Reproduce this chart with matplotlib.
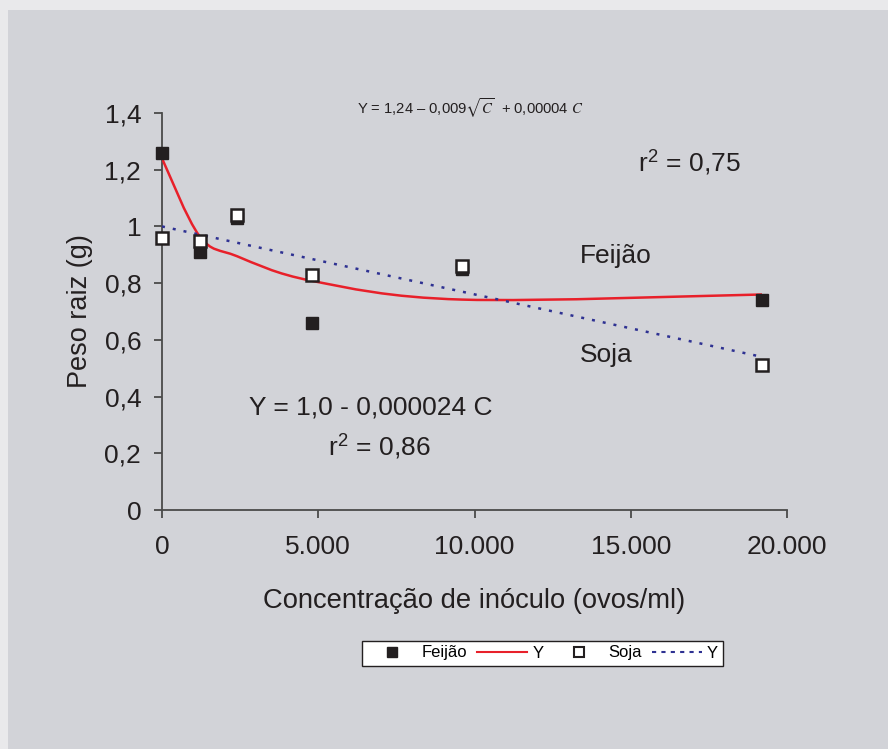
import numpy as np
import matplotlib
matplotlib.use("Agg")
import matplotlib.pyplot as plt
from matplotlib.path import Path
from matplotlib.patches import PathPatch, Rectangle
from matplotlib.lines import Line2D

plt.rcParams['font.family'] = ['Liberation Sans', 'DejaVu Sans']
plt.rcParams['mathtext.fontset'] = 'stix'

# data
conc = [0, 1200, 2400, 4800, 9600, 19200]
feijao = [1.26, 0.91, 1.03, 0.66, 0.85, 0.74]
soja = [0.96, 0.95, 1.04, 0.83, 0.86, 0.51]
# fitted values at the same concentrations
feijao_fit = [1.24, 0.966, 0.895, 0.808, 0.742, 0.76]
soja_fit_x = [0, 19200]
soja_fit = [1.0, 0.54]

xticks = [0, 5000, 10000, 15000, 20000]
xticklabels = ['0', '5.000', '10.000', '15.000', '20.000']
yticks = [0, 0.2, 0.4, 0.6, 0.8, 1.0, 1.2, 1.4]
yticklabels = ['0', '0,2', '0,4', '0,6', '0,8', '1', '1,2', '1,4']

outer_bg = '#e9e9eb'
panel_bg = '#d2d3d8'
red = '#e8202a'
navy = '#2e3192'
ink = '#231f20'

fig = plt.figure(figsize=(8.88, 7.49), dpi=100, facecolor=outer_bg)
fig.patches.append(Rectangle((8 / 888, 0), 1, 1 - 10 / 749, transform=fig.transFigure,
                             facecolor=panel_bg, edgecolor='none', zorder=-10))

ax = fig.add_axes([162 / 888, 1 - 510 / 749, 625 / 888, 397 / 749])
ax.set_facecolor('none')
ax.set_xlim(0, 20000)
ax.set_ylim(0, 1.4)

for s in ['top', 'right']:
    ax.spines[s].set_visible(False)
for s in ['left', 'bottom']:
    ax.spines[s].set_color('#4a4a4a')
    ax.spines[s].set_linewidth(1.3)

ax.set_xticks(xticks)
ax.set_xticklabels(xticklabels)
ax.set_yticks(yticks)
ax.set_yticklabels(yticklabels)
ax.tick_params(axis='both', colors='#4a4a4a', labelcolor=ink, labelsize=19,
               length=6, width=1.3, direction='out')
ax.tick_params(axis='x', pad=12)
ax.tick_params(axis='y', pad=9)

# smoothed curve through fitted values (Catmull-Rom as bezier)
pts = np.column_stack([conc, feijao_fit])
verts = [pts[0]]
codes = [Path.MOVETO]
n = len(pts)
for i in range(n - 1):
    p0 = pts[max(i - 1, 0)]
    p1 = pts[i]
    p2 = pts[i + 1]
    p3 = pts[min(i + 2, n - 1)]
    verts += [p1 + (p2 - p0) / 6, p2 - (p3 - p1) / 6, p2]
    codes += [Path.CURVE4] * 3
ax.add_patch(PathPatch(Path(verts, codes), facecolor='none', edgecolor=red, lw=1.8, zorder=3))

ax.plot(soja_fit_x, soja_fit, color=navy, lw=1.8, linestyle=(0, (1.2, 3.2)), zorder=3)

ax.plot(conc, feijao, 's', color=ink, markersize=8, clip_on=False, zorder=4)
ax.plot(conc, soja, 's', markerfacecolor='white', markeredgecolor=ink, markeredgewidth=1.8,
        markersize=8, clip_on=False, zorder=5)

ax.set_xlabel('Concentração de inóculo (ovos/ml)', fontsize=19.7, color=ink)
ax.xaxis.set_label_coords(0.5, -0.197)
ax.set_ylabel('Peso raiz (g)', fontsize=19.5, color=ink)
ax.yaxis.set_label_coords(-0.11, 0.5)

sq = r'$^{\mathregular{2}}$'
ax.text(6240, 1.4175, r'Y = 1,24 – 0,009$\sqrt{C}$  + 0,00004 $C$', fontsize=10.6,
        color=ink, va='center', ha='left', clip_on=False)
ax.text(15232, 1.227, 'r' + sq + ' = 0,75', fontsize=19, color=ink, va='center', ha='left')
ax.text(13376, 0.8956, 'Feijão', fontsize=19, color=ink, va='center', ha='left')
ax.text(13376, 0.5465, 'Soja', fontsize=19, color=ink, va='center', ha='left')
ax.text(6672, 0.3597, 'Y = 1,0 - 0,000024 C', fontsize=19, color=ink, va='center', ha='center')
ax.text(6944, 0.2257, 'r' + sq + ' = 0,86', fontsize=19, color=ink, va='center', ha='center')

handles = [
    Line2D([], [], linestyle='none', marker='s', color=ink, markersize=7),
    Line2D([], [], color=red, lw=1.5),
    Line2D([], [], linestyle='none', marker='s', markerfacecolor='white',
           markeredgecolor=ink, markeredgewidth=1.5, markersize=7),
    Line2D([], [], color=navy, lw=1.5, linestyle=(0, (2, 2.5))),
]
leg = fig.legend(handles, ['Feijão', 'Y', 'Soja', 'Y'], loc='center',
                 bbox_to_anchor=(542.5 / 888, 1 - 653 / 749), ncol=4, fontsize=12,
                 frameon=True, fancybox=False, edgecolor=ink, facecolor='white',
                 framealpha=1, handlelength=3.0, handletextpad=0.3, columnspacing=0.6,
                 borderpad=0.3, borderaxespad=0)
leg.get_frame().set_linewidth(1.0)

fig.savefig('out.png', dpi=100, facecolor=outer_bg)
